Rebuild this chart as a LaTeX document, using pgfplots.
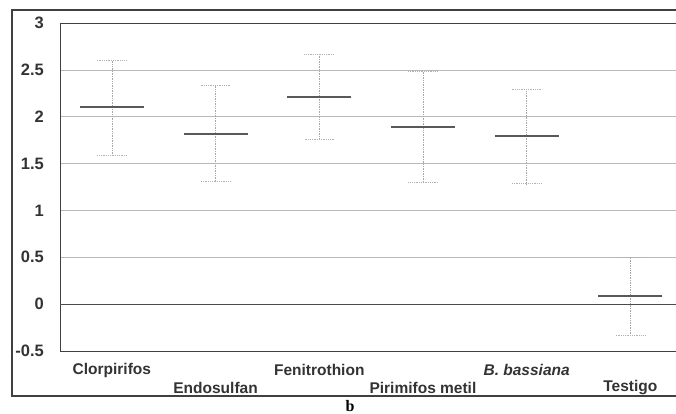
\documentclass[border=0pt]{standalone}
\usepackage{fontspec}
\setmainfont{Liberation Sans}
\newfontfamily\seriffont{Liberation Serif}
\usepackage{pgfplots}
\pgfplotsset{compat=1.18}
\usepackage{pgfplotstable}
\pgfplotstableread{
x mean ep em
0 2.100 0.505 0.510
1 1.815 0.515 0.505
2 2.210 0.460 0.450
3 1.893 0.590 0.590
4 1.794 0.500 0.510
5 0.086 0.414 0.416
}\datatable
\begin{document}
\begin{tikzpicture}
\begin{axis}[
  at={(60pt,62pt)}, anchor=south west,
  scale only axis, width=616pt, height=328pt,
  xmin=-0.5, xmax=5.44, ymin=-0.5, ymax=3,
  xtick=\empty,
  ytick={-0.5,0,0.5,1,1.5,2,2.5,3},
  axis x line*=box, axis y line*=left,
  axis line style={black!75, line width=1pt},
  major tick length=0pt,
  ymajorgrids, grid style={gray!55, line width=0.6pt},
  extra y ticks={0}, extra y tick labels={},
  extra y tick style={grid style={black!70, line width=0.9pt}},
  /pgf/number format/assume math mode=true,
  yticklabel style={font=\fontsize{16.5}{16}\selectfont\bfseries, text=black!80, anchor=east, inner sep=0pt, xshift=-16pt},
  clip=false,
]
\addplot[only marks, mark=-, mark size=32pt, line width=2pt, color=black!65,
  error bars/.cd, y dir=both, y explicit,
  error bar style={gray!70, line width=0.7pt, densely dotted},
  error mark=|, error mark options={mark size=15pt, gray!60, line width=0.8pt, densely dotted}]
  table[x=x, y=mean, y error plus=ep, y error minus=em] {\datatable};
\addplot[only marks, mark=-, mark size=32pt, line width=2pt, color=black!65] table[x=x, y=mean] {\datatable};
\begin{scope}[font=\fontsize{15.5}{16}\selectfont\bfseries, text=black!80]
\node at (axis cs:0,-0.5) [yshift=-19pt] {Clorpirifos};
\node at (axis cs:1,-0.5) [yshift=-37pt] {Endosulfan};
\node at (axis cs:2,-0.5) [yshift=-19pt] {Fenitrothion};
\node at (axis cs:3,-0.5) [yshift=-37pt] {Pirimifos metil};
\node at (axis cs:4,-0.5) [yshift=-19pt] {\itshape B. bassiana};
\node at (axis cs:5,-0.5) [yshift=-37pt] {Testigo};
\end{scope}
\end{axis}
\draw[black!75, line width=1.2pt] (676pt,403pt) -- (12pt,403pt) -- (12pt,17pt) -- (676pt,17pt);
\node[anchor=base, inner sep=0pt, font=\seriffont\fontsize{16}{16}\selectfont\bfseries] at (350pt,2pt) {b};
\pgfresetboundingbox
\path[use as bounding box] (0pt,0pt) rectangle (676pt,413pt);
\end{tikzpicture}
\end{document}
